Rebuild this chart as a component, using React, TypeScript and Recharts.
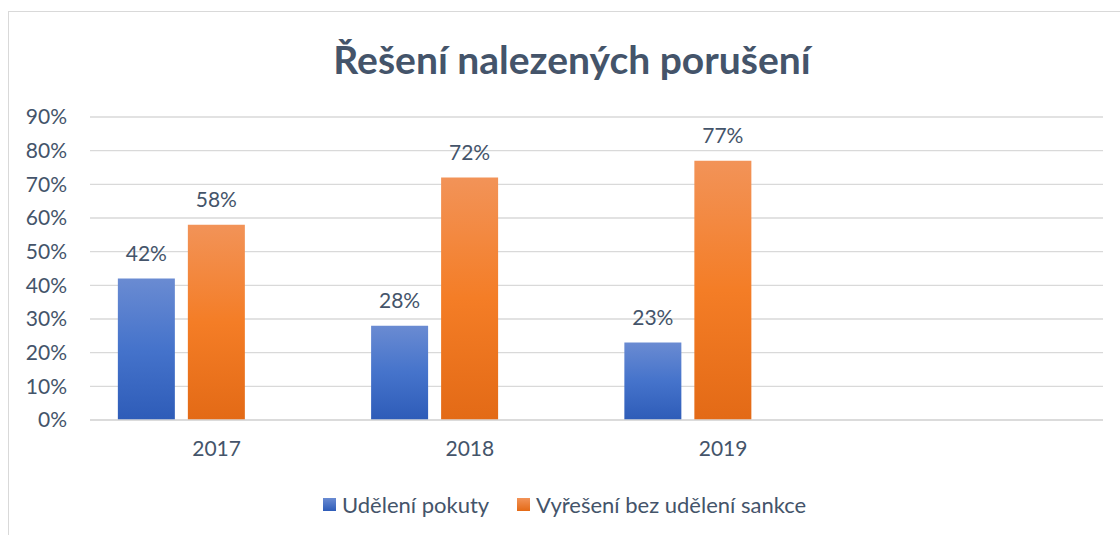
import { Bar, BarChart, CartesianGrid, LabelList, XAxis, YAxis } from "recharts"

const years = ["2017", "2018", "2019", ""]
const fines = [42, 28, 23, null]
const resolvedNoSanction = [58, 72, 77, null]
const emptySeries = [null, null, null, null]
const yTicks = [0, 10, 20, 30, 40, 50, 60, 70, 80, 90]

const seriesNames = ["Udělení pokuty", "Vyřešení bez udělení sankce"]

const FONT = "Lato, 'Open Sans', sans-serif"
const TEXT = "#44546A"
const GRID = "#D9D9D9"
const SMALL = 21

const data = years.map((year, i) => ({
  year,
  fines: fines[i],
  resolved: resolvedNoSanction[i],
  empty: emptySeries[i],
}))

const pct = (v: number | null) => (v == null ? "" : `${v}%`)

function LegendItem({ left, swatch, label }: { left: number; swatch: string; label: string }) {
  return (
    <span style={{ position: "absolute", left, top: 0, display: "flex", alignItems: "center", whiteSpace: "nowrap" }}>
      <span style={{ width: 13, height: 13, marginRight: 6, background: swatch }} />
      {label}
    </span>
  )
}

function ChartLegend() {
  return (
    <div
      style={{
        position: "absolute",
        top: 491,
        left: 0,
        width: 1120,
        height: 30,
        fontFamily: FONT,
        fontSize: 22,
        color: TEXT,
      }}
    >
      <LegendItem left={323} swatch="linear-gradient(#6A8BD2, #2E5CB8)" label={seriesNames[0]} />
      <LegendItem left={517} swatch="linear-gradient(#F29358, #E46A16)" label={seriesNames[1]} />
    </div>
  )
}

export default function App() {
  return (
    <div style={{ position: "absolute", left: 0, top: 0, width: 1120, height: 535, background: "#fff", overflow: "hidden" }}>
      <div
        style={{
          position: "absolute",
          left: 8,
          top: 11,
          width: 1130,
          height: 560,
          border: `1px solid ${GRID}`,
        }}
      />
      <div
        style={{
          position: "absolute",
          top: 36,
          left: 12,
          width: 1120,
          textAlign: "center",
          fontFamily: FONT,
          fontWeight: 700,
          fontSize: 39,
          color: TEXT,
        }}
      >
        Řešení nalezených porušení
      </div>
      <div style={{ position: "absolute", left: 0, top: 0 }}>
        <BarChart
          width={1120}
          height={535}
          data={data}
          margin={{ top: 117, right: 17, left: 0, bottom: 85 }}
          barCategoryGap="11%"
          barGap={13}
        >
          <defs>
            <linearGradient id="blueGrad" x1="0" y1="0" x2="0" y2="1">
              <stop offset="0%" stopColor="#6A8BD2" />
              <stop offset="50%" stopColor="#4573CB" />
              <stop offset="100%" stopColor="#2E5CB8" />
            </linearGradient>
            <linearGradient id="orangeGrad" x1="0" y1="0" x2="0" y2="1">
              <stop offset="0%" stopColor="#F29358" />
              <stop offset="50%" stopColor="#F47D26" />
              <stop offset="100%" stopColor="#E36A16" />
            </linearGradient>
          </defs>
          <CartesianGrid vertical={false} stroke={GRID} strokeWidth={1.3} />
          <XAxis
            dataKey="year"
            axisLine={{ stroke: GRID, strokeWidth: 1.3 }}
            tickLine={false}
            tickSize={0}
            tickMargin={21}
            height={30}
            tick={{ fontFamily: FONT, fontSize: SMALL, fill: TEXT }}
            interval={0}
          />
          <YAxis
            domain={[0, 90]}
            ticks={yTicks}
            width={90}
            axisLine={false}
            tickLine={false}
            tickSize={0}
            tickMargin={23}
            tickFormatter={(v: number) => `${v}%`}
            tick={{ fontFamily: FONT, fontSize: SMALL, fill: TEXT }}
          />
          <Bar dataKey="fines" name={seriesNames[0]} fill="url(#blueGrad)" isAnimationActive={false}>
            <LabelList
              dataKey="fines"
              position="top"
              offset={18}
              formatter={pct}
              style={{ fontFamily: FONT, fontSize: SMALL, fill: TEXT }}
            />
          </Bar>
          <Bar dataKey="resolved" name={seriesNames[1]} fill="url(#orangeGrad)" isAnimationActive={false}>
            <LabelList
              dataKey="resolved"
              position="top"
              offset={18}
              formatter={pct}
              style={{ fontFamily: FONT, fontSize: SMALL, fill: TEXT }}
            />
          </Bar>
          <Bar dataKey="empty" fill="transparent" isAnimationActive={false} />
        </BarChart>
      </div>
      <ChartLegend />
    </div>
  )
}
